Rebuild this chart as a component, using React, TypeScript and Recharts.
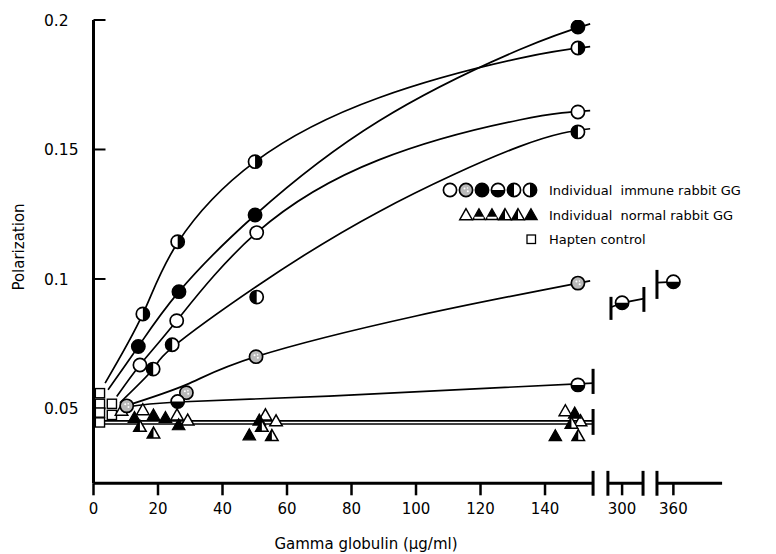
import React from 'react';
import { ComposedChart, Line, Scatter, XAxis, YAxis, ReferenceLine, Legend } from 'recharts';

const FONT = '"DejaVu Sans", "Liberation Sans", sans-serif';

// ---- axis definitions ----
const Y_MIN = 0.0211;
const Y_MAX = 0.2;
const yTicks = [0.05, 0.1, 0.15, 0.2];
const xTicksLinear = [0, 20, 40, 60, 80, 100, 120, 140];
const xTicksBroken = [300, 360];
const X_AXIS_END = 417; // real units beyond the break

// broken-axis mapping: linear up to 160, then compressed segment holding 300 and 360
const toAxis = (v: number) => (v <= 160 ? v : 163.9 + (v - 300) * 0.265);
const fromAxis = (a: number) => (a <= 160 ? a : Math.round(300 + (a - 163.9) / 0.265));

// ---- immune rabbit GG (circles): measured points [µg/ml, polarization] ----
const immuneOpen = [[14.4, 0.0668], [25.8, 0.0839], [50.6, 0.1179], [150.2, 0.1645]];
const immuneStipple = [[10.3, 0.051], [28.8, 0.0561], [50.4, 0.07], [150.2, 0.0984]];
const immuneFilled = [[13.9, 0.0739], [26.5, 0.0951], [50.1, 0.1247], [150.2, 0.1973]];
const immuneHalfBottom = [[26.1, 0.0527], [150.2, 0.0591], [300, 0.0908], [360, 0.0989]];
const immuneHalfLeft = [[18.5, 0.0652], [24.4, 0.0746], [50.6, 0.093], [150.2, 0.1568]];
const immuneHalfRight = [[15.3, 0.0865], [26.1, 0.1144], [50.1, 0.1453], [150.2, 0.1892]];

// fitted curves
const curveHalfRight = [[3.6, 0.0598], [15.3, 0.0865], [26.1, 0.114], [50.1, 0.1453], [88.5, 0.17], [132, 0.1852], [154, 0.1897]];
const curveFilled = [[4.5, 0.0572], [13.9, 0.0739], [26.5, 0.0951], [50.1, 0.1247], [88.5, 0.161], [132, 0.1885], [154, 0.1985]];
const curveOpen = [[7.2, 0.0546], [14.4, 0.0668], [25.8, 0.0839], [50.6, 0.1179], [88.5, 0.146], [132, 0.1614], [154, 0.165]];
const curveHalfLeft = [[8.2, 0.0522], [18.5, 0.0652], [24.4, 0.0735], [50.4, 0.097], [88.5, 0.126], [132, 0.1511], [154, 0.158]];
const curveStipple = [[9.5, 0.0508], [28.8, 0.0592], [50.4, 0.07], [100, 0.0857], [154, 0.0993]];
const curveHalfBottom = [[10, 0.0505], [26.1, 0.0525], [73, 0.0548], [154.9, 0.0598]];
const curve300 = [[287, 0.0891], [300, 0.0908], [325.5, 0.0924]];
const curve360 = [[340.8, 0.0986], [360, 0.0989]];

// ---- normal rabbit GG (triangles) ----
const normalOpen = [[8.7, 0.0488], [15.3, 0.049], [25.9, 0.047], [29.2, 0.045], [53.3, 0.047], [56.6, 0.0447], [146.3, 0.0486], [151, 0.0447]];
const normalFilled = [[12.7, 0.046], [18.6, 0.047], [22.3, 0.046], [26.4, 0.0432], [48.3, 0.0393], [51.4, 0.045], [149.2, 0.0477], [143.2, 0.039]];
const normalHalf = [[14.4, 0.0426], [18.6, 0.04], [52.2, 0.0426], [55.3, 0.039], [148.2, 0.0438], [150.3, 0.039]];
const normalLineUpper = [[2, 0.0452], [154.9, 0.0452]];
const normalLineLower = [[2, 0.044], [154.9, 0.044]];

// ---- hapten control (squares) ----
const haptenControl = [[2, 0.0559], [2, 0.0518], [5.7, 0.0518], [2, 0.0484], [5.7, 0.0475], [2, 0.0446]];

// ---- break marks ----
const axisSegments = [[0, 154.9], [283.4, 324.5], [340.8, X_AXIS_END]];
const axisBreaks = [154.9, 283.4, 324.5, 340.8];
const plotBreaks = [
  [154.9, 0.0556, 0.0653],
  [154.9, 0.0398, 0.0498],
  [287, 0.0842, 0.0931],
  [325.5, 0.0873, 0.0969],
  [340.8, 0.0923, 0.1035],
];

const pts = (arr: number[][]) => arr.map(([x, y]) => ({ x: toAxis(x), y }));

const R = 6.6;
const circlePath = (kind: string, cx: number, cy: number, r: number) => {
  const els: any[] = [];
  const fill = kind === 'filled' ? '#000' : kind === 'stipple' ? '#b9b9b9' : '#fff';
  els.push(<circle key="c" cx={cx} cy={cy} r={r} fill={fill} stroke="#000" strokeWidth={1.7} />);
  if (kind === 'stipple') {
    els.push(<circle key="s1" cx={cx - 1.5} cy={cy - 1.5} r={1} fill="#fff" />);
    els.push(<circle key="s2" cx={cx + 1.8} cy={cy + 1.2} r={1} fill="#fff" />);
    els.push(<circle key="s3" cx={cx + 1.5} cy={cy - 2} r={0.8} fill="#fff" />);
  }
  let d = '';
  if (kind === 'halfBottom') d = `M ${cx - r} ${cy} A ${r} ${r} 0 0 0 ${cx + r} ${cy} Z`;
  if (kind === 'halfLeft') d = `M ${cx} ${cy - r} A ${r} ${r} 0 0 0 ${cx} ${cy + r} Z`;
  if (kind === 'halfRight') d = `M ${cx} ${cy - r} A ${r} ${r} 0 0 1 ${cx} ${cy + r} Z`;
  if (d) els.push(<path key="h" d={d} fill="#000" />);
  return <g>{els}</g>;
};

const triPath = (kind: string, cx: number, cy: number) => {
  const s = 12.5;
  const h = 11;
  const top = cy - (2 * h) / 3;
  const bot = cy + h / 3;
  const outline = `${cx},${top} ${cx - s / 2},${bot} ${cx + s / 2},${bot}`;
  if (kind === 'open') return <polygon points={outline} fill="#fff" stroke="#000" strokeWidth={1.5} />;
  if (kind === 'filled') return <polygon points={outline} fill="#000" stroke="#000" strokeWidth={1.2} />;
  if (kind === 'band') {
    const yb = bot - 3;
    const w = (s / 2) * ((yb - top) / h);
    return (
      <g>
        <polygon points={outline} fill="#000" stroke="#000" strokeWidth={1.2} />
        <polygon points={`${cx - w},${yb} ${cx + w},${yb} ${cx + s / 2 - 1.6},${bot - 0.8} ${cx - s / 2 + 1.6},${bot - 0.8}`} fill="#fff" />
      </g>
    );
  }
  return (
    <g>
      <polygon points={outline} fill="#fff" stroke="#000" strokeWidth={1.5} />
      <polygon points={`${cx},${top} ${cx - s / 2},${bot} ${cx},${bot}`} fill="#000" />
    </g>
  );
};

const circleShape = (kind: string) => (p: any) => circlePath(kind, p.cx, p.cy, R);
const triShape = (kind: string) => (p: any) => triPath(kind, p.cx, p.cy);
const squareShape = (p: any) => (
  <rect x={p.cx - 4.6} y={p.cy - 4.6} width={9.2} height={9.2} fill="#fff" stroke="#000" strokeWidth={1.4} />
);

const YTick = (p: any) => (
  <text x={44} y={p.y} dy={6} textAnchor="start" fontFamily={FONT} fontSize={15.5} fill="#000">
    {String(p.payload.value)}
  </text>
);

const XTick = (p: any) => (
  <text x={p.x} y={p.y} dy={17} textAnchor="middle" fontFamily={FONT} fontSize={15} fill="#000">
    {String(fromAxis(p.payload.value))}
  </text>
);

const YLabel = () => (
  <text x={19} y={247} transform="rotate(-90 19 247)" textAnchor="middle" dominantBaseline="central" fontFamily={FONT} fontSize={15} fill="#000">
    Polarization
  </text>
);

const XLabel = () => (
  <text x={366} y={549} textAnchor="middle" fontFamily={FONT} fontSize={15} fill="#000">
    Gamma globulin (μg/ml)
  </text>
);

const legendCircles = ['open', 'stipple', 'filled', 'halfBottom', 'halfLeft', 'halfRight'];
const legendTriangles = ['open', 'band', 'band', 'half', 'half', 'filled'];
const legendLabels = ['Individual  immune rabbit GG', 'Individual  normal rabbit GG', 'Hapten control'];

const LegendBox = () => (
  <svg width={340} height={80} style={{ overflow: 'visible', display: 'block' }}>
    {legendCircles.map((k, i) => (
      <g key={k + i}>{circlePath(k, 20 + i * 16, 15, 6.6)}</g>
    ))}
    {legendTriangles.map((k, i) => (
      <g key={'t' + i}>{triPath(k, 36 + i * 13, 41)}</g>
    ))}
    <rect x={97} y={60} width={8.5} height={8.5} fill="#fff" stroke="#000" strokeWidth={1.3} />
    {legendLabels.map((t, i) => (
      <text key={t} x={119} y={20 + i * 24.5} fontFamily={FONT} fontSize={13} fill="#000" style={{ whiteSpace: 'pre' }}>
        {t}
      </text>
    ))}
  </svg>
);

const smoothCurves = [curveHalfRight, curveFilled, curveOpen, curveHalfLeft, curveStipple, curveHalfBottom];
const straightCurves = [curve300, curve360, normalLineUpper, normalLineLower];

export default function App() {
  return (
    <div style={{ position: 'absolute', left: 0, top: 0, width: 776, height: 554, background: '#fff' }}>
      <ComposedChart width={776} height={554} margin={{ top: 20, right: 53.6, bottom: 30.7, left: 0 }}>
        <XAxis
          type="number"
          dataKey="x"
          domain={[0, 195]}
          allowDataOverflow
          ticks={[...xTicksLinear, ...xTicksBroken.map(toAxis)]}
          axisLine={false}
          tickLine={{ stroke: '#000', strokeWidth: 2.5 }}
          tickSize={12}
          tickMargin={2}
          height={40}
          tick={<XTick />}
          label={<XLabel />}
          interval={0}
        />
        <YAxis
          type="number"
          dataKey="y"
          domain={[Y_MIN, Y_MAX]}
          allowDataOverflow
          ticks={yTicks}
          width={93.5}
          axisLine={{ stroke: '#000', strokeWidth: 3 }}
          tickLine={{ stroke: '#000', strokeWidth: 2 }}
          tickSize={-12}
          tick={<YTick />}
          label={<YLabel />}
          interval={0}
        />
        {axisSegments.map(([a, b], i) => (
          <ReferenceLine
            key={'ax' + i}
            segment={[{ x: toAxis(a), y: Y_MIN }, { x: toAxis(b), y: Y_MIN }]}
            stroke="#000"
            strokeWidth={3}
            ifOverflow="visible"
          />
        ))}
        {axisBreaks.map((a, i) => (
          <ReferenceLine
            key={'ab' + i}
            segment={[{ x: toAxis(a), y: Y_MIN - 0.0048 }, { x: toAxis(a), y: Y_MIN + 0.0048 }]}
            stroke="#000"
            strokeWidth={3}
            ifOverflow="visible"
          />
        ))}
        {plotBreaks.map(([a, y1, y2], i) => (
          <ReferenceLine
            key={'pb' + i}
            segment={[{ x: toAxis(a), y: y1 }, { x: toAxis(a), y: y2 }]}
            stroke="#000"
            strokeWidth={3}
            ifOverflow="visible"
          />
        ))}
        {smoothCurves.map((c, i) => (
          <Line
            key={'s' + i}
            data={pts(c)}
            dataKey="y"
            type="natural"
            stroke="#000"
            strokeWidth={1.7}
            dot={false}
            activeDot={false}
            isAnimationActive={false}
          />
        ))}
        {straightCurves.map((c, i) => (
          <Line
            key={'l' + i}
            data={pts(c)}
            dataKey="y"
            type="linear"
            stroke="#000"
            strokeWidth={1.7}
            dot={false}
            activeDot={false}
            isAnimationActive={false}
          />
        ))}
        <Scatter data={pts(haptenControl)} dataKey="y" shape={squareShape} isAnimationActive={false} />
        <Scatter data={pts(normalOpen)} dataKey="y" shape={triShape('open')} isAnimationActive={false} />
        <Scatter data={pts(normalFilled)} dataKey="y" shape={triShape('filled')} isAnimationActive={false} />
        <Scatter data={pts(normalHalf)} dataKey="y" shape={triShape('half')} isAnimationActive={false} />
        <Scatter data={pts(immuneOpen)} dataKey="y" shape={circleShape('open')} isAnimationActive={false} />
        <Scatter data={pts(immuneStipple)} dataKey="y" shape={circleShape('stipple')} isAnimationActive={false} />
        <Scatter data={pts(immuneFilled)} dataKey="y" shape={circleShape('filled')} isAnimationActive={false} />
        <Scatter data={pts(immuneHalfBottom)} dataKey="y" shape={circleShape('halfBottom')} isAnimationActive={false} />
        <Scatter data={pts(immuneHalfLeft)} dataKey="y" shape={circleShape('halfLeft')} isAnimationActive={false} />
        <Scatter data={pts(immuneHalfRight)} dataKey="y" shape={circleShape('halfRight')} isAnimationActive={false} />
        <Legend
          layout="vertical"
          align="center"
          verticalAlign="middle"
          content={() => <LegendBox />}
          wrapperStyle={{ position: 'absolute', left: 430, top: 175, width: 340, height: 80 }}
        />
      </ComposedChart>
    </div>
  );
}
